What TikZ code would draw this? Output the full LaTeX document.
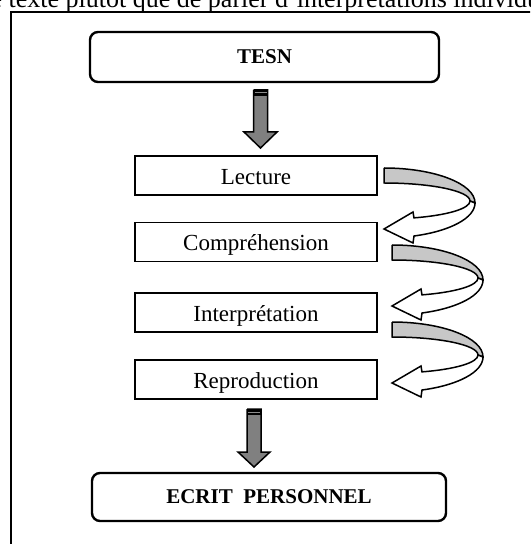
\documentclass[tikz,border=0pt]{standalone}
\usepackage{fontspec}
\setmainfont{Liberation Serif}
\tikzset{
  etape/.style={draw, line width=0.75pt, minimum width=121pt, minimum height=19.5pt, inner sep=0pt,
    text height=10.5pt, text depth=1.5pt, font=\fontsize{11.5}{13}\selectfont},
  titre/.style={draw, line width=1.2pt, rounded corners=4pt, inner sep=0pt,
    font=\fontsize{10.5}{12}\selectfont\bfseries},
  ruban/.style={draw, line width=0.75pt, fill=black!22},
  fleche/.style={draw, line width=0.75pt, fill=white},
  bloc/.style={draw, line width=0.75pt, fill=black!50},
}
\begin{document}
\begin{tikzpicture}[x=0.5pt,y=0.5pt]
\useasboundingbox (0,0) rectangle (530,-544);
\clip (0,0) rectangle (530,-544);

% texte de la page et cadre
\node[anchor=base west, inner sep=0pt, font=\fontsize{13}{15}\selectfont] (page) at (-17,-8)
  {le texte plutôt que de parler d'interprétations individuelles};
\draw[line width=0.8pt] (11,-12) rectangle (560,-580);

\node[titre, minimum width=174.5pt, minimum height=25pt] (tesn) at (264.5,-57) {TESN};
\node[etape] (lecture) at (256,-175.5) {Lecture};
\node[etape] (comprehension) at (256,-242) {Compréhension};
\node[etape] (interpretation) at (256,-312.5) {Interprétation};
\node[etape] (reproduction) at (256,-379.5) {Reproduction};
\node[titre, minimum width=177pt, minimum height=24pt] (ecrit) at (269,-497) {ECRIT\ \ PERSONNEL};

% fleches vers le bas
\draw[bloc] (253.5,-90) -- (267.5,-90) -- (267.5,-132) -- (277,-132) -- (260.5,-148) -- (244,-132) -- (253.5,-132) -- (253.5,-90);
\fill (253.5,-90) rectangle (267.5,-96);
\draw[black!45, line width=0.5pt] (254.5,-93) -- (266.5,-93);

\draw[bloc] (247,-409) -- (261,-409) -- (261,-452) -- (270,-452) -- (254,-467) -- (238,-452) -- (247,-452) -- (247,-409);
\fill (247,-409) rectangle (261,-415);
\draw[black!45, line width=0.5pt] (248,-412) -- (260,-412);

% fleches courbes
\foreach \dx/\dy in {0/0, 8/-77, 8/-154} {
  \begin{scope}[shift={(\dx,\dy)}]
    \draw[ruban] (384,-168) arc[start angle=90, end angle=0, x radius=91, y radius=35]
      -- (470,-201) arc[start angle=0, end angle=90, x radius=86, y radius=18] -- (384,-168);
    \draw[fleche] (470,-201) arc[start angle=0, end angle=-69.6, x radius=86, y radius=18]
      -- (413,-212) -- (384,-229) -- (413,-243) -- (414,-236)
      arc[start angle=-70.75, end angle=0, x radius=91, y radius=35] -- (470,-201);
  \end{scope}
}
\end{tikzpicture}
\end{document}
